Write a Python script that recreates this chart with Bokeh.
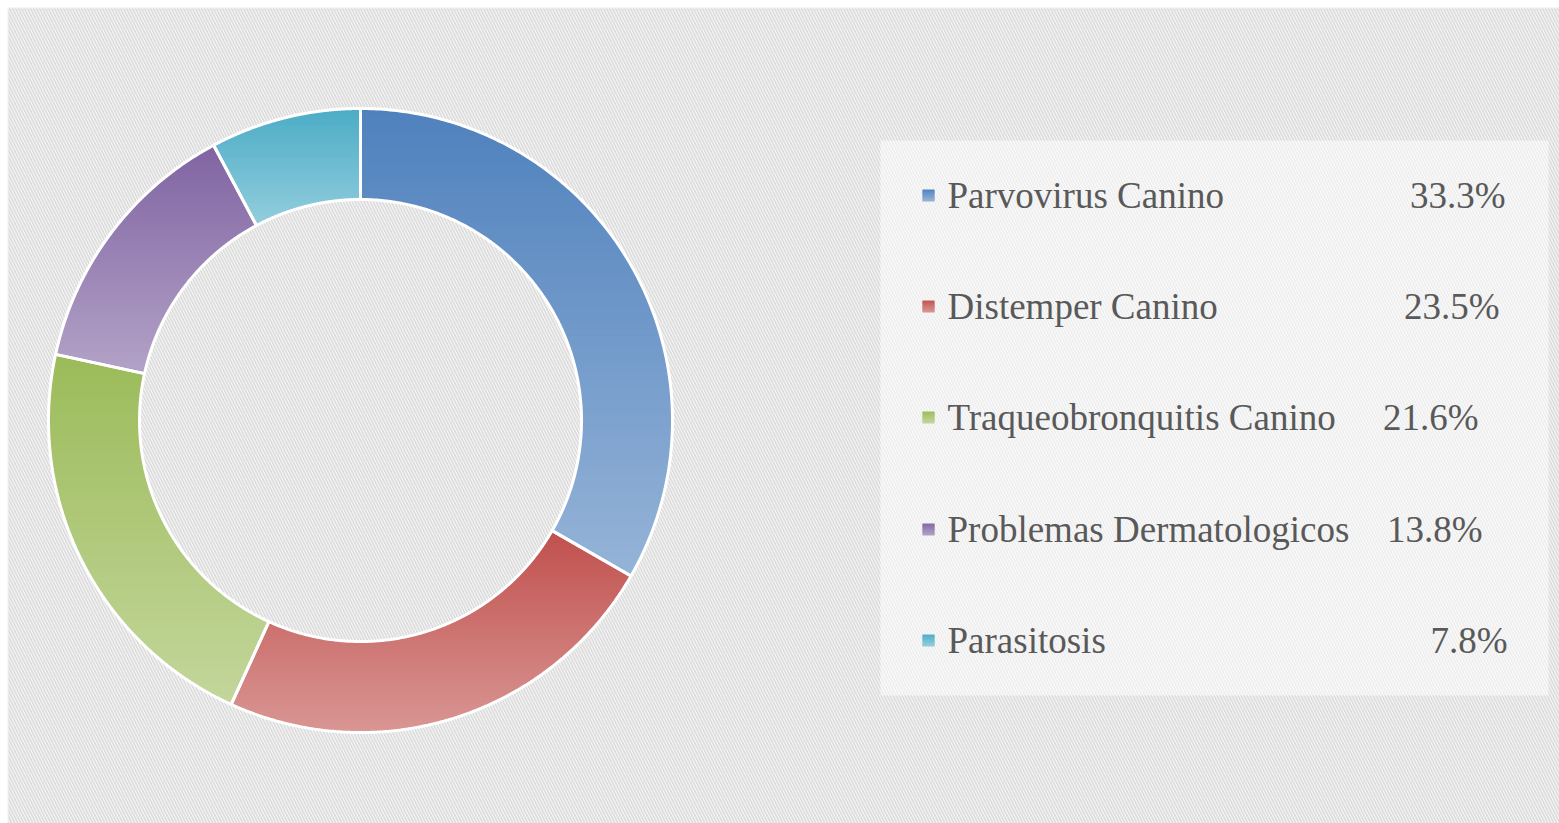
import numpy as np
from bokeh.plotting import figure
from bokeh.models import Range1d, BoxAnnotation
from bokeh.embed import file_html
from bokeh.resources import INLINE
from bokeh.core.properties import value

# ---------------- data ----------------
categories = ["Parvovirus Canino", "Distemper Canino", "Traqueobronquitis Canino",
              "Problemas Dermatologicos", "Parasitosis"]
percentages = [33.3, 23.5, 21.6, 13.8, 7.8]
colors = ["#4F81BD", "#C0504D", "#9BBB59", "#8064A2", "#4BACC6"]

# ---------------- layout / style ----------------
W, H = 1559, 823
CX, CY, R_OUT, R_IN = 360, 403, 312, 221
ROW_Y = [628, 517, 406, 294, 183]
PCT_RIGHT = [1505, 1499, 1478, 1482, 1507]
LABEL_X = 947
MARK_X = 928
FONT = "Liberation Serif"
TXT = "#595959"

p = figure(width=W, height=H, x_range=Range1d(0, W), y_range=Range1d(0, H),
           output_backend="svg", toolbar_location=None, min_border=0)
p.axis.visible = False
p.grid.visible = False
p.outline_line_color = None
p.background_fill_color = "white"
p.border_fill_color = "white"

bg = BoxAnnotation(left=8, right=W + 30, bottom=-30, top=H - 8, fill_color="white", fill_alpha=1.0,
                   hatch_pattern="\\", hatch_color="#DEDEDE", hatch_scale=6, hatch_weight=2,
                   line_color="#D9D9D9", line_width=2.5, level="underlay")
p.add_layout(bg)
leg = BoxAnnotation(left=880, right=1548, bottom=128, top=683, fill_color="white", fill_alpha=0.5,
                    line_color=None, level="underlay")
p.add_layout(leg)


def hex2rgb(h):
    h = h.lstrip("#")
    return tuple(int(h[i:i + 2], 16) for i in (0, 2, 4))


def mix(h, t):
    r, g, b = hex2rgb(h)
    return "#%02x%02x%02x" % tuple(int(round(c + (255 - c) * t)) for c in (r, g, b))


def clip(poly, y0, above):
    out = []
    n = len(poly)
    for i in range(n):
        cur, prev = poly[i], poly[i - 1]
        cin = cur[1] >= y0 if above else cur[1] <= y0
        pin = prev[1] >= y0 if above else prev[1] <= y0
        if cin != pin:
            f = (y0 - prev[1]) / (cur[1] - prev[1])
            out.append((prev[0] + f * (cur[0] - prev[0]), y0))
        if cin:
            out.append(cur)
    return out


def gradient_bands(poly, base, nb=80, light=0.4):
    ys = [q[1] for q in poly]
    ymin, ymax = min(ys), max(ys)
    h = (ymax - ymin) / nb
    bx, by, bc = [], [], []
    for i in range(nb):
        top = ymax - i * h + 0.6
        bot = ymax - (i + 1) * h - 0.6
        part = clip(clip(poly, bot, True), top, False)
        if len(part) < 3:
            continue
        bx.append([q[0] for q in part])
        by.append([q[1] for q in part])
        bc.append(mix(base, light * (i + 0.5) / nb))
    return bx, by, bc


# ---------------- donut ----------------
total = sum(percentages)
cum = 0.0
all_x, all_y, all_c = [], [], []
outline_x, outline_y = [], []
for v, col in zip(percentages, colors):
    a0 = np.radians(90 - 360 * cum / total)
    a1 = np.radians(90 - 360 * (cum + v) / total)
    cum += v
    ang = np.linspace(a0, a1, 200)
    poly = [(CX + R_OUT * np.cos(a), CY + R_OUT * np.sin(a)) for a in ang]
    poly += [(CX + R_IN * np.cos(a), CY + R_IN * np.sin(a)) for a in ang[::-1]]
    bx, by, bc = gradient_bands(poly, col)
    all_x += bx
    all_y += by
    all_c += bc
    outline_x.append([q[0] for q in poly])
    outline_y.append([q[1] for q in poly])

p.patches(all_x, all_y, fill_color=all_c, line_color=None)
p.patches(outline_x, outline_y, fill_color=None, line_color="white", line_width=3)

# ---------------- legend ----------------
mx, my, mc = [], [], []
for y, col in zip(ROW_Y, colors):
    sq = [(MARK_X - 6, y + 6), (MARK_X + 6, y + 6), (MARK_X + 6, y - 6), (MARK_X - 6, y - 6)]
    bx, by, bc = gradient_bands(sq, col, nb=8)
    mx += bx
    my += by
    mc += bc
p.patches(mx, my, fill_color=mc, line_color=None)

p.text(x=[LABEL_X] * len(categories), y=ROW_Y, text=categories,
       text_font=value(FONT), text_font_size="37px", text_color=TXT,
       text_baseline="middle", text_align="left")
p.text(x=PCT_RIGHT, y=ROW_Y, text=[f"{v:.1f}%" for v in percentages],
       text_font=value(FONT), text_font_size="37px", text_color=TXT,
       text_baseline="middle", text_align="right")

open("out.html", "w").write(file_html(p, INLINE))
